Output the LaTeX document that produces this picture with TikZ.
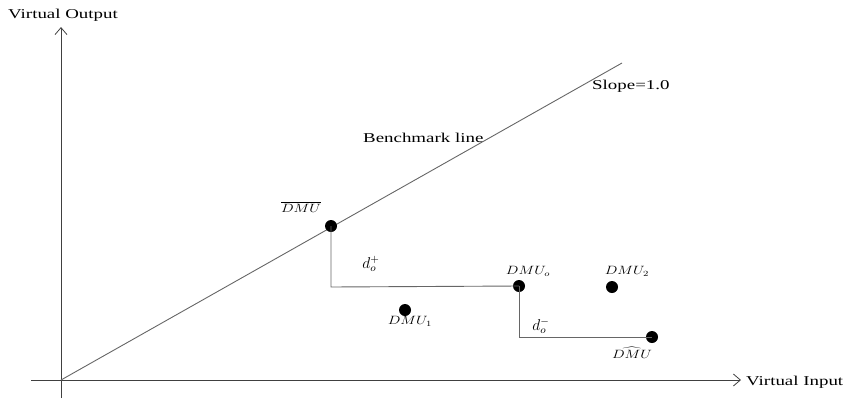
\documentclass[tikz,border=0pt]{standalone}
\usepackage{fontspec}
\setmainfont{Liberation Serif}
\usetikzlibrary{arrows.meta}
\newcommand\stretchtxt[1]{\scalebox{1.4}[1]{#1}}
\newcommand\mstretch[1]{\scalebox{1.25}[1]{#1}}
\begin{document}
\begin{tikzpicture}[x=1pt,y=-1pt,
  ax/.style={draw=black!75, line width=0.8pt, -{Straight Barb[length=7pt,width=12pt]}},
  ln/.style={draw=black!60, line width=0.9pt},
  dot/.style={circle, fill=black, inner sep=0pt, minimum size=12pt},
  lbl/.style={font=\fontsize{13.5}{16}\selectfont, inner sep=0pt},
  mlbl/.style={font=\fontsize{11.5}{13}\selectfont, inner sep=0pt}]
\useasboundingbox (0,0) rectangle (849,400);
% axes
\coordinate (ybot) at (61,398);
\coordinate (ytop) at (61,27);
\coordinate (xl) at (31,380);
\coordinate (xr) at (741,380);
\coordinate (O) at (61,380);
\coordinate (B) at (622,63);
\draw[ax] (ybot) -- (ytop);
\draw[ax] (xl) -- (xr);
\draw[ln] (O) -- (B);
% points
\node[dot] (dbar) at (331,226) {};
\node[dot] (dmuo) at (519,286) {};
\node[dot] (dmu1) at (405,310) {};
\node[dot] (dmu2) at (612,287) {};
\node[dot] (dtil) at (652,337) {};
\coordinate (c1) at (331,287);
\coordinate (c2) at (519,337);
\draw[ln] (dbar.center) -- (c1) -- (dmuo.center);
\draw[ln] (dmuo.center) -- (c2) -- (dtil.center);
% labels
\node[lbl, anchor=west] (yl) at (8,15) {\stretchtxt{Virtual Output}};
\node[lbl, anchor=west] (xlab) at (746,382) {\stretchtxt{Virtual Input}};
\node[lbl, anchor=west] (sl) at (592,86) {\stretchtxt{Slope=1.0}};
\node[lbl, anchor=west] (bl) at (363,138) {\stretchtxt{Benchmark line}};
\node[mlbl] (lbar) at (301,207) {\mstretch{$\overline{DMU}$}};
\node[mlbl] (ldp) at (371,264) {\scalebox{1.3}{$d_o^+$}};
\node[mlbl] (lo) at (528,271) {\mstretch{$DMU_o$}};
\node[mlbl] (l2) at (627,271) {\mstretch{$DMU_2$}};
\node[mlbl] (l1) at (410,321) {\mstretch{$DMU_1$}};
\node[mlbl] (ldm) at (541,326) {\scalebox{1.3}{$d_o^-$}};
\node[mlbl] (ltil) at (632,353) {\mstretch{$\widehat{DMU}$}};
\end{tikzpicture}
\end{document}
